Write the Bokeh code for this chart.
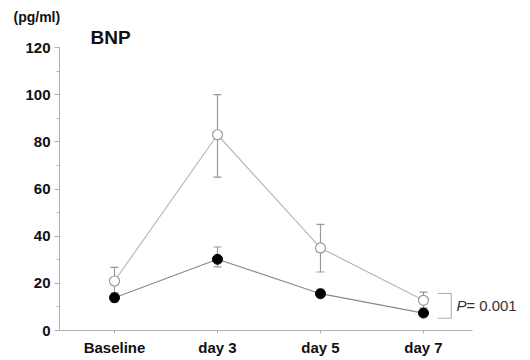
from bokeh.plotting import figure
from bokeh.models import (Range1d, FixedTicker, SingleIntervalTicker, ColumnDataSource,
                          Whisker, TeeHead, Label, Title)
from bokeh.embed import file_html
from bokeh.resources import INLINE

categories = ["Baseline", "day 3", "day 5", "day 7"]
open_mean = [21, 83, 35, 12.8]
open_lo = [15, 65, 24.8, 9.5]
open_hi = [26.8, 100, 45, 16.3]
filled_mean = [13.9, 30.2, 15.6, 7.4]
filled_lo = [12.0, 27.0, 14.0, 6.0]
filled_hi = [16.0, 35.4, 17.5, 8.8]
y_ticks = [0, 20, 40, 60, 80, 100, 120]
p_text = "= 0.001"
bracket_y = [5.2, 15.7]

xs = list(range(len(categories)))
FONT = "Liberation Sans"

p = figure(width=530, height=360, output_backend="svg", toolbar_location=None,
           x_range=Range1d(-0.534, 4.039), y_range=Range1d(y_ticks[0], y_ticks[-1]),
           min_border_left=59, min_border_right=0, min_border_top=47, min_border_bottom=30)
p.outline_line_color = None
p.xgrid.visible = False
p.ygrid.visible = False
p.background_fill_color = "white"

axis_col = "#b0b0b0"
# y axis
yax = p.left[0]
yax.ticker = SingleIntervalTicker(interval=20, num_minor_ticks=2)
yax.axis_line_color = axis_col
yax.major_tick_line_color = axis_col
yax.minor_tick_line_color = axis_col
yax.major_tick_out = 5
yax.major_tick_in = 0
yax.minor_tick_out = 3
yax.minor_tick_in = 0
yax.major_label_text_font = FONT
yax.major_label_text_font_style = "bold"
yax.major_label_text_font_size = "15px"
yax.major_label_text_color = "#111111"
yax.major_label_standoff = 4
# x axis
xax = p.below[0]
xax.ticker = FixedTicker(ticks=xs)
xax.bounds = (-0.6, 3.476)
xax.major_label_overrides = {i: c for i, c in enumerate(categories)}
xax.axis_line_color = axis_col
xax.major_tick_line_color = axis_col
xax.major_tick_out = 3
xax.major_tick_in = 0
xax.minor_tick_line_color = None
xax.major_label_text_font = FONT
xax.major_label_text_font_style = "bold"
xax.major_label_text_font_size = "15px"
xax.major_label_text_color = "#111111"
xax.major_label_standoff = 5

src_o = ColumnDataSource(dict(x=xs, y=open_mean, lo=open_lo, hi=open_hi))
src_f = ColumnDataSource(dict(x=xs, y=filled_mean, lo=filled_lo, hi=filled_hi))

p.line("x", "y", source=src_o, line_color="#b8b8b8", line_width=1.2)
p.line("x", "y", source=src_f, line_color="#8a8a8a", line_width=1.2)

for src in (src_o, src_f):
    w = Whisker(source=src, base="x", lower="lo", upper="hi",
                line_color="#9a9a9a", line_width=1.2,
                upper_head=TeeHead(size=8, line_color="#9a9a9a", line_width=1.2),
                lower_head=TeeHead(size=8, line_color="#9a9a9a", line_width=1.2))
    p.add_layout(w)

p.scatter("x", "y", source=src_o, size=10, marker="circle", fill_color="white",
          line_color="#9a9a9a", line_width=1.2)
p.scatter("x", "y", source=src_f, size=10, marker="circle", fill_color="black",
          line_color="black")

# significance bracket at day 7
bx0, bx1 = xs[3] + 0.14, xs[3] + 0.27
p.segment(x0=[bx0, bx1, bx0], y0=[bracket_y[1], bracket_y[1], bracket_y[0]],
          x1=[bx1, bx1, bx1], y1=[bracket_y[1], bracket_y[0], bracket_y[0]],
          line_color="#aaaaaa", line_width=1)

p.add_layout(Label(x=xs[3] + 0.32, y=sum(bracket_y) / 2, text="P", text_font=FONT,
                   text_font_style="italic", text_font_size="15px", text_color="#333333",
                   text_baseline="middle"))
p.add_layout(Label(x=xs[3] + 0.415, y=sum(bracket_y) / 2, text=p_text, text_font=FONT,
                   text_font_size="15px", text_color="#333333", text_baseline="middle"))

p.add_layout(Title(text="BNP", align="left", offset=31, text_font=FONT,
                   text_font_style="bold", text_font_size="19px", text_color="#111111",
                   standoff=0), "above")
p.add_layout(Title(text="(pg/ml)", align="left", offset=-46, text_font=FONT,
                   text_font_style="bold", text_font_size="14px", text_color="#111111",
                   standoff=0), "above")

open("out.html", "w").write(file_html(p, INLINE))
